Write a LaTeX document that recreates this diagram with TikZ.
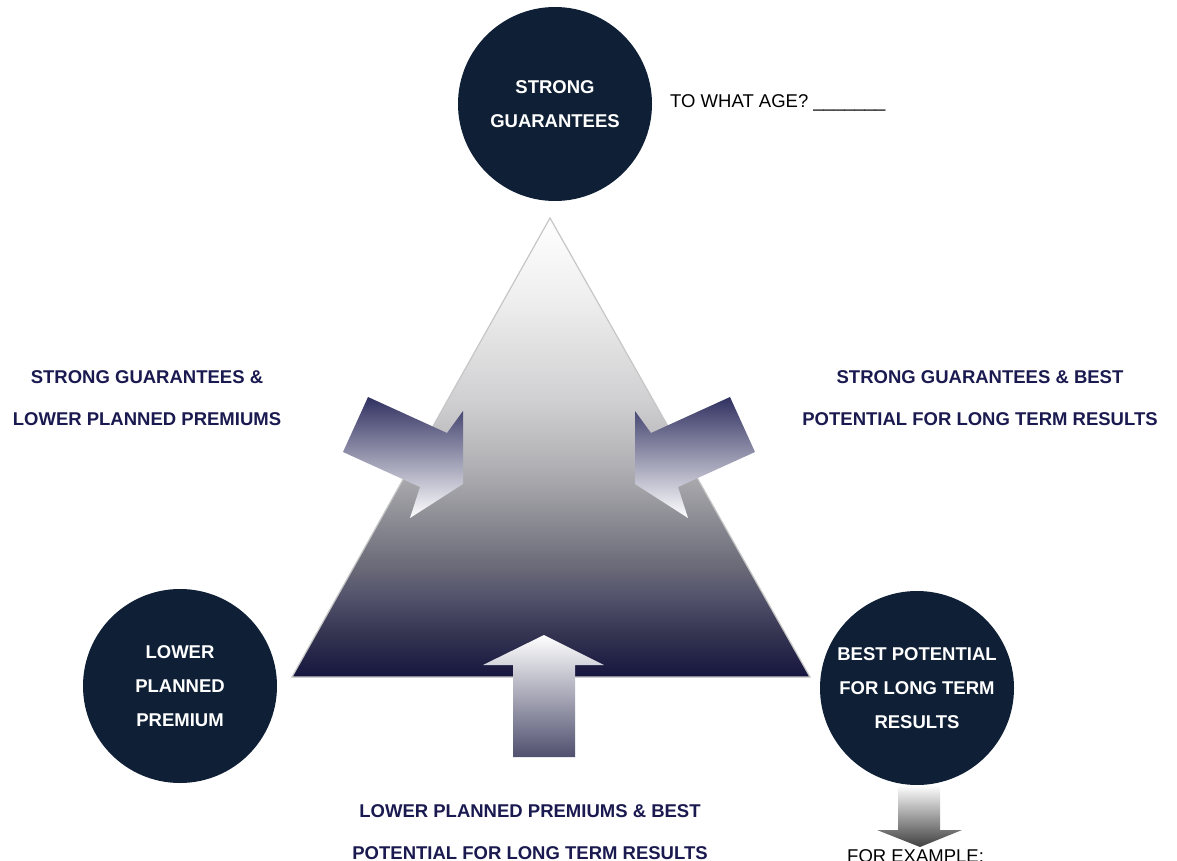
\documentclass[tikz,border=0pt]{standalone}
\usepackage{fontspec}
\setmainfont{Liberation Sans}

\definecolor{circlenavy}{HTML}{0F2036}
\definecolor{labelnavy}{HTML}{1A1A50}
\definecolor{deepnavy}{HTML}{15153F}
\definecolor{midgray}{HTML}{C6C6CB}
% steps of the pyramid fill, from the base upwards
\definecolor{pyrA}{HTML}{353552}
\definecolor{pyrB}{HTML}{50506A}
\definecolor{pyrC}{HTML}{6A6A78}
\definecolor{pyrD}{HTML}{9A9AA0}
\definecolor{pyrE}{HTML}{B0B0B4}
\definecolor{pyrF}{HTML}{D0D0D2}
\definecolor{pyrG}{HTML}{EEEEEE}
\pgfdeclareverticalshading{pyramidfill}{100bp}{color(0bp)=(deepnavy); color(25bp)=(deepnavy); color(29.8bp)=(pyrA); color(33.4bp)=(pyrB); color(37bp)=(pyrC); color(44.3bp)=(pyrD); color(47.9bp)=(pyrE); color(55.2bp)=(pyrF); color(66bp)=(pyrG); color(75bp)=(white); color(100bp)=(white)}

\begin{document}
\begin{tikzpicture}[x=1pt, y=-1pt, every node/.style={align=center, inner sep=0pt}, goal/.style={circle, fill=circlenavy, minimum size=194pt, text=white, font=\fontsize{18.5}{34}\selectfont\bfseries}, combo/.style={text=labelnavy, font=\fontsize{18.5}{41.5}\selectfont\bfseries}, note/.style={anchor=west, text=black, font=\fontsize{18.5}{22}\selectfont}, pyramid/.style={shading=pyramidfill, draw=gray!45, line width=1.2pt}, sidearrow/.style={top color=labelnavy!90, middle color=midgray, bottom color=white}, uparrow/.style={top color=white, middle color=gray!30, bottom color=deepnavy!75}]
  \useasboundingbox (0,0) rectangle (1177,861);

  % the pyramid
  \shade[pyramid] (550,218) -- (292,677) -- (810,677) -- cycle;

  % arrows pushing into the pyramid
  \shade[sidearrow] (368,397) -- (447,433) -- (463,411) -- (463,484) -- (410,518) -- (420,487) -- (343,452) -- cycle;
  \shade[sidearrow] (730,397) -- (651,433) -- (635,411) -- (635,484) -- (688,518) -- (678,487) -- (755,452) -- cycle;
  \shade[uparrow] (544,635) -- (604,665) -- (575,665) -- (575,757) -- (513,757) -- (513,665) -- (483,665) -- cycle;

  % the three goals
  \node[goal] (guarantees) at (555,104) {STRONG\\GUARANTEES};
  \node[goal] (premium) at (180,686) {LOWER\\PLANNED\\PREMIUM};
  \node[goal] (results) at (917,688) {BEST POTENTIAL\\FOR LONG TERM\\RESULTS};

  \shade[uparrow, top color=white, bottom color=black!75] (898,785) -- (940,785) -- (940,830) -- (962,830) -- (920,847) -- (877,830) -- (898,830) -- cycle;

  % trade-offs between two goals
  \node[combo] (leftcombo) at (147,398) {STRONG GUARANTEES \&\\LOWER PLANNED PREMIUMS};
  \node[combo] (rightcombo) at (980,398) {STRONG GUARANTEES \& BEST\\POTENTIAL FOR LONG TERM RESULTS};
  \node[combo] (bottomcombo) at (530,832) {LOWER PLANNED PREMIUMS \& BEST\\POTENTIAL FOR LONG TERM RESULTS};

  \node[note] (age) at (670,103) {TO WHAT AGE? \_\_\_\_\_\_\_};
  \node[note] (example) at (847,856) {FOR EXAMPLE:};
\end{tikzpicture}
\end{document}
